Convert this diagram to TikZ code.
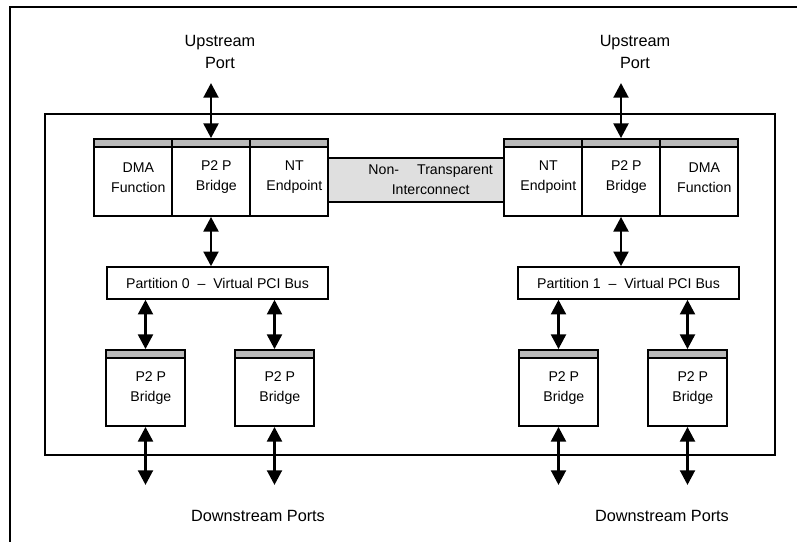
\documentclass[tikz,border=0pt]{standalone}
\usepackage{fontspec}
\setmainfont{Liberation Sans}
\usetikzlibrary{arrows.meta}

\begin{document}
\begin{tikzpicture}[x=0.75pt,y=-0.75pt,
    boxfont/.style={font=\fontsize{10.6}{15}\selectfont},
    portlabel/.style={font=\fontsize{12.2}{17}\selectfont,align=center},
    cell/.style={draw,line width=1.3pt,minimum width=58.5pt,minimum height=57.75pt,inner sep=0pt,
        path picture={
            \fill[gray!55] (path picture bounding box.north west) rectangle ([yshift=-6pt]path picture bounding box.north east);
            \draw[line width=1.3pt] ([yshift=-6pt]path picture bounding box.north west) -- ([yshift=-6pt]path picture bounding box.north east);},
        label={[boxfont,align=center,xshift=4pt]center:#1}},
    bridge/.style={cell={#1},minimum width=59.25pt,minimum height=57pt},
    bus/.style={draw,line width=1.1pt,minimum width=166pt,minimum height=24pt,boxfont},
    link/.style={draw,line width=1.1pt,fill=gray!25,minimum width=132pt,minimum height=33pt,inner sep=0pt},
    dblarrow/.style={{Triangle[width=11pt,length=11pt]}-{Triangle[width=11pt,length=11pt]},line width=2.2pt}]
    \useasboundingbox (0,0) rectangle (797,542);

    \draw[line width=2.2pt] (10,542) -- (10,7) -- (797,7);
    \draw[line width=1.1pt] (45,114) rectangle (775,455);

    \node[link] (ntic) at (416,180) {};
    \node[boxfont,align=center,xshift=11pt] (ntictext) at (ntic) {Non-\quad\ Transparent\\Interconnect};

    \node[cell={DMA\\Function}] (dmaL) at (133,177.5) {};
    \node[cell={P2 P\\Bridge}] (p2pL) at (211,177.5) {};
    \node[cell={NT\\Endpoint}] (ntL) at (289,177.5) {};
    \node[cell={NT\\Endpoint}] (ntR) at (543,177.5) {};
    \node[cell={P2 P\\Bridge}] (p2pR) at (621,177.5) {};
    \node[cell={DMA\\Function}] (dmaR) at (699,177.5) {};

    \node[bus] (part0) at (217.5,283) {Partition 0 \ – \ Virtual PCI Bus};
    \node[bus] (part1) at (628.5,283) {Partition 1 \ – \ Virtual PCI Bus};

    \node[bridge={P2 P\\Bridge}] (brA) at (145.5,388) {};
    \node[bridge={P2 P\\Bridge}] (brB) at (274.5,388) {};
    \node[bridge={P2 P\\Bridge}] (brC) at (558.5,388) {};
    \node[bridge={P2 P\\Bridge}] (brD) at (687.5,388) {};

    \node[portlabel] (upL) at (220,52) {Upstream\\Port};
    \node[portlabel] (upR) at (635,52) {Upstream\\Port};
    \node[portlabel] (dnL) at (258,516) {Downstream Ports};
    \node[portlabel] (dnR) at (662,516) {Downstream Ports};

    \coordinate (upLtop) at (211,83);
    \coordinate (upRtop) at (621,83);
    \coordinate (dnend) at (0,485);

    \draw[dblarrow] (upLtop) -- (p2pL.north);
    \draw[dblarrow] (upRtop) -- (p2pR.north);
    \draw[dblarrow] (p2pL.south) -- (p2pL.south |- part0.north);
    \draw[dblarrow] (p2pR.south) -- (p2pR.south |- part1.north);

    \draw[dblarrow] (brA.north |- part0.south) -- (brA.north);
    \draw[dblarrow] (brB.north |- part0.south) -- (brB.north);
    \draw[dblarrow] (brC.north |- part1.south) -- (brC.north);
    \draw[dblarrow] (brD.north |- part1.south) -- (brD.north);

    \draw[dblarrow] (brA.south) -- (brA.south |- dnend);
    \draw[dblarrow] (brB.south) -- (brB.south |- dnend);
    \draw[dblarrow] (brC.south) -- (brC.south |- dnend);
    \draw[dblarrow] (brD.south) -- (brD.south |- dnend);
\end{tikzpicture}
\end{document}
